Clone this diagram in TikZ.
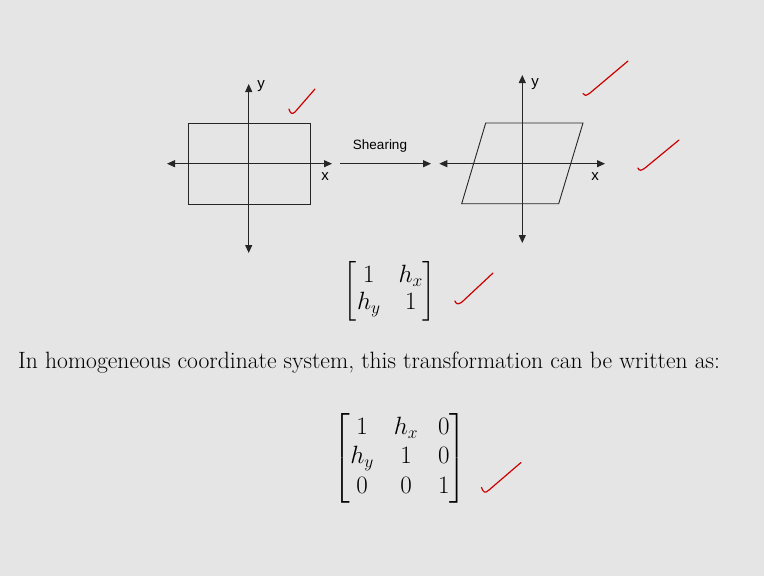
\documentclass[tikz,border=0pt]{standalone}
\usepackage{fix-cm}
\usepackage{amsmath}
\usepackage{fontspec}
\newfontfamily\arialfont{Liberation Sans}
\usetikzlibrary{arrows.meta}

\begin{document}
\begin{tikzpicture}[
    x=1pt, y=-1pt,
    axis/.style={draw=black!85, line width=1pt,
                 {Triangle[length=8pt,width=7pt]}-{Triangle[length=8pt,width=7pt]}},
    shapeline/.style={draw=black!85, line width=0.9pt},
    axislabel/.style={font=\arialfont\fontsize{15}{17}\selectfont, inner sep=0pt},
    tick/.style={draw=red!80!black, line width=1.2pt, line cap=round, line join=round},
    mat/.style={font=\fontsize{25}{29}\selectfont, inner sep=0pt}
  ]
  \fill[black!10] (0,0) rectangle (764,576);
  \useasboundingbox (0,0) rectangle (764,576);

  % original rectangle with its axes
  \coordinate (xl1) at (167,163.7);
  \coordinate (xr1) at (332,163.7);
  \coordinate (yt1) at (248.7,84);
  \coordinate (yb1) at (248.7,253);
  \node[shapeline, minimum width=122pt, minimum height=81pt, inner sep=0pt] (rect) at (249,163.5) {};
  \draw[axis] (xl1) -- (xr1);
  \draw[axis] (yt1) -- (yb1);
  \node[axislabel] (ylab1) at (261,86) {y};
  \node[axislabel] (xlab1) at (325,177) {x};

  % shearing arrow
  \coordinate (sfrom) at (340,163.7);
  \coordinate (sto) at (431,163.7);
  \node[font=\arialfont\fontsize{13.5}{15}\selectfont, inner sep=0pt] (shear) at (380,146) {Shearing};
  \draw[axis, -{Triangle[length=8pt,width=7pt]}] (sfrom) -- (sto);

  % sheared shape with its axes
  \coordinate (xl2) at (439.3,163.7);
  \coordinate (xr2) at (605,163.7);
  \coordinate (yt2) at (522.3,75);
  \coordinate (yb2) at (522.3,243);
  \coordinate (p1) at (485.7,123);
  \coordinate (p2) at (583,123);
  \coordinate (p3) at (558.7,203.7);
  \coordinate (p4) at (461.7,203.7);
  \draw[shapeline] (p1) -- (p2) -- (p3) -- (p4) -- cycle;
  \draw[axis] (xl2) -- (xr2);
  \draw[axis] (yt2) -- (yb2);
  \node[axislabel] (ylab2) at (535,84) {y};
  \node[axislabel] (xlab2) at (595,177) {x};

  % matrices and text
  \node[mat] (m1) at (390,291)
    {\arraycolsep=9pt\renewcommand{\arraystretch}{0.92}%
     $\begin{bmatrix} 1 & h_x \\ h_y & 1 \end{bmatrix}$};
  \node[anchor=base west, font=\fontsize{23.6}{28}\selectfont, inner sep=0pt] (note) at (18,368)
    {In homogeneous coordinate system, this transformation can be written as:};
  \node[mat] (m2) at (400,458)
    {\arraycolsep=10pt\renewcommand{\arraystretch}{1.02}%
     $\begin{bmatrix} 1 & h_x & 0 \\ h_y & 1 & 0 \\ 0 & 0 & 1 \end{bmatrix}$};

  % red ticks
  \draw[tick] (289,109) .. controls (290,113) and (292,115) .. (295,112) -- (315,89);
  \draw[tick] (583,93.5) .. controls (584,96) and (586,96) .. (590,93) -- (628,61);
  \draw[tick] (638,168) .. controls (639,171) and (641,171) .. (645,168) -- (679,140);
  \draw[tick] (455,301) .. controls (456,304) and (458,305) .. (462,302) -- (493,273);
  \draw[tick] (481.5,487.5) .. controls (483,492) and (485,494) .. (489,490) -- (521,462.5);
\end{tikzpicture}
\end{document}
